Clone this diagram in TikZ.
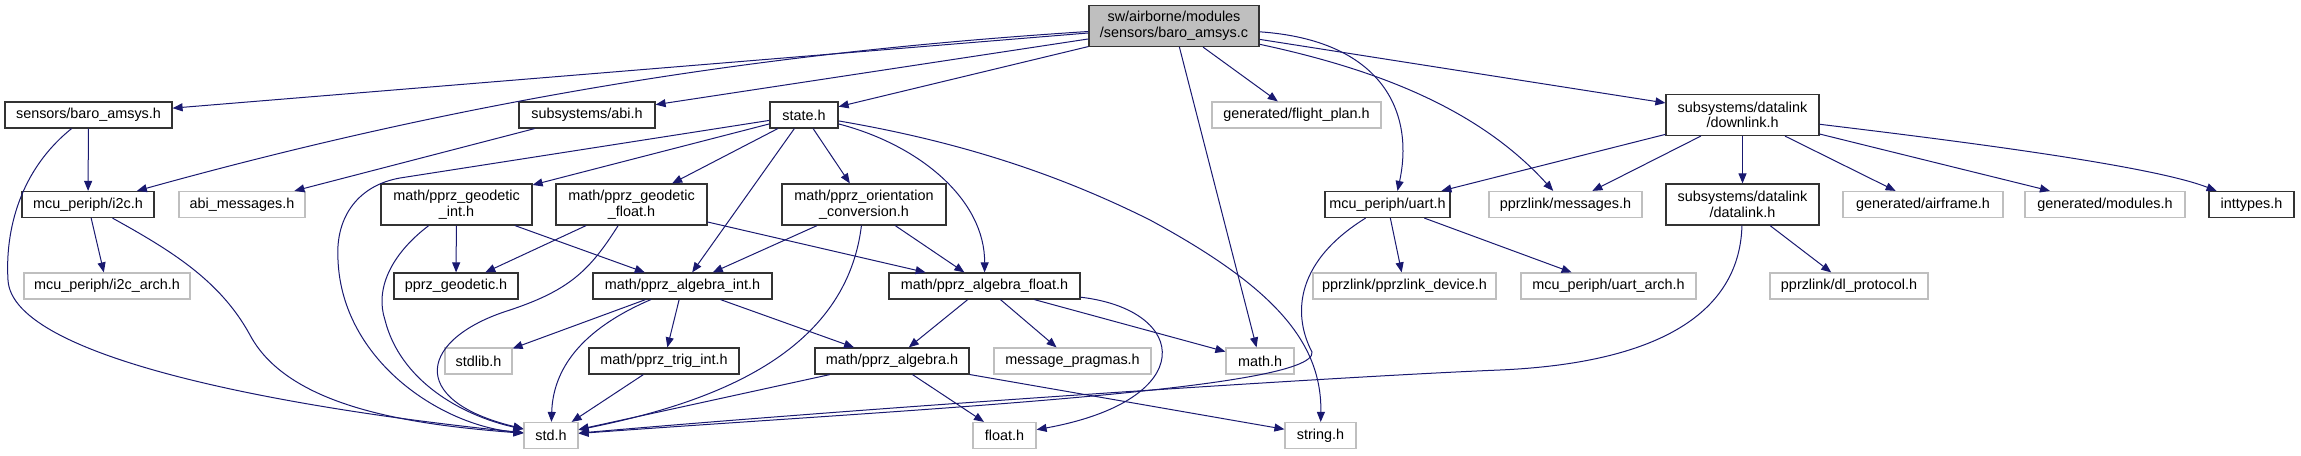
\documentclass[tikz,border=0pt]{standalone}
\usepackage{fontspec}
\setmainfont{Liberation Sans}
\usetikzlibrary{arrows.meta}
\definecolor{edgec}{HTML}{191970}
\definecolor{gborder}{HTML}{BFBFBF}
\definecolor{mainfill}{HTML}{BFBFBF}
\begin{document}
\begin{tikzpicture}[x=1pt,y=-1pt,
  box/.style={draw=black!80, line width=1.2pt, fill=white, inner sep=0pt, align=center,
    font=\fontsize{14.4}{15.5}\selectfont, minimum height=26pt},
  tall/.style={minimum height=41pt},
  gbox/.style={box, draw=gborder},
  ed/.style={draw=edgec, line width=1pt, -{Triangle[length=10pt,width=8pt]}},
]
\useasboundingbox (0,0) rectangle (2301,455);
% row 1
\node[box, tall, fill=mainfill, minimum width=170pt] (main) at (1174,26) {sw/airborne/modules\\/sensors/baro\_amsys.c};
% row 2
\node[box, minimum width=167pt] (baroh) at (88.5,115) {sensors/baro\_amsys.h};
\node[box, minimum width=136pt] (abi) at (587,115) {subsystems/abi.h};
\node[box, minimum width=68pt] (state) at (804,115) {state.h};
\node[gbox, minimum width=169pt] (fp) at (1296.5,115) {generated/flight\_plan.h};
\node[box, tall, minimum width=153pt] (downlink) at (1742.5,115) {subsystems/datalink\\/downlink.h};
% row 3
\node[box, minimum width=132pt] (i2c) at (88,204.5) {mcu\_periph/i2c.h};
\node[gbox, minimum width=126pt] (abimsg) at (242,204.5) {abi\_messages.h};
\node[box, tall, minimum width=151pt] (geoint) at (456.5,204.5) {math/pprz\_geodetic\\\_int.h};
\node[box, tall, minimum width=151pt] (geofloat) at (631.5,204.5) {math/pprz\_geodetic\\\_float.h};
\node[box, tall, minimum width=164pt] (orient) at (864,204.5) {math/pprz\_orientation\\\_conversion.h};
\node[box, minimum width=125pt] (uart) at (1387.5,204.5) {mcu\_periph/uart.h};
\node[gbox, minimum width=153pt] (msgs) at (1565.5,204.5) {pprzlink/messages.h};
\node[box, tall, minimum width=153pt] (datalink) at (1742.5,204.5) {subsystems/datalink\\/datalink.h};
\node[gbox, minimum width=160pt] (airframe) at (1923,204.5) {generated/airframe.h};
\node[gbox, minimum width=160pt] (modules) at (2105,204.5) {generated/modules.h};
\node[box, minimum width=85pt] (inttypes) at (2251.5,204.5) {inttypes.h};
% row 4
\node[gbox, minimum width=166pt] (i2carch) at (107,286) {mcu\_periph/i2c\_arch.h};
\node[box, minimum width=124pt] (geodetic) at (456,286) {pprz\_geodetic.h};
\node[box, minimum width=179pt] (algint) at (682.5,286) {math/pprz\_algebra\_int.h};
\node[box, minimum width=191pt] (algfloat) at (984.5,286) {math/pprz\_algebra\_float.h};
\node[gbox, minimum width=183pt] (device) at (1404.5,286) {pprzlink/pprzlink\_device.h};
\node[gbox, minimum width=175pt] (uartarch) at (1608.5,286) {mcu\_periph/uart\_arch.h};
\node[gbox, minimum width=158pt] (dlproto) at (1849,286) {pprzlink/dl\_protocol.h};
% row 5
\node[gbox, minimum width=67pt] (stdlib) at (478.5,361) {stdlib.h};
\node[box, minimum width=150pt] (trig) at (664,361) {math/pprz\_trig\_int.h};
\node[box, minimum width=154pt] (alg) at (892,361) {math/pprz\_algebra.h};
\node[gbox, minimum width=157pt] (pragmas) at (1072.5,361) {message\_pragmas.h};
\node[gbox, minimum width=68pt] (math) at (1260,361) {math.h};
% row 6
\node[gbox, minimum width=54pt] (std) at (551,435.5) {std.h};
\node[gbox, minimum width=63pt] (float) at (1004.5,435.5) {float.h};
\node[gbox, minimum width=71pt] (string) at (1320.5,435.5) {string.h};

% edges from main
\draw[ed] (main) -- (baroh);
\draw[ed] (main) .. controls (800,50) and (500,90) .. (i2c);
\draw[ed] (main) -- (abi);
\draw[ed] (main) -- (state);
\draw[ed] (main) -- (math);
\draw[ed] (main) -- (fp);
\draw[ed] (main) .. controls (1380,40) and (1415,110) .. ([xshift=10pt]uart.north);
\draw[ed] (main) .. controls (1380,70) and (1480,110) .. (msgs);
\draw[ed] (main) -- (downlink);
% baro_amsys.h
\draw[ed] (baroh) -- (i2c);
\draw[ed] (baroh) .. controls (20,170) and (5,230) .. (8,280) .. controls (12,360) and (300,410) .. (std);
% abi
\draw[ed] (abi) -- (abimsg);
% i2c
\draw[ed] (i2c) -- (i2carch);
\draw[ed] (i2c) .. controls (170,250) and (220,280) .. (250,335) .. controls (290,410) and (420,425) .. (std);
% state
\draw[ed] (state) -- (400,178) .. controls (360,185) and (335,215) .. (338,260) .. controls (342,360) and (440,425) .. (std);
\draw[ed] (state) -- (geoint);
\draw[ed] (state) -- (geofloat);
\draw[ed] (state) -- (algint);
\draw[ed] (state) -- (orient);
\draw[ed] (state) .. controls (920,145) and (985,200) .. (algfloat);
\draw[ed] (state) .. controls (950,140) and (1050,170) .. (1150,220) .. controls (1270,285) and (1322,340) .. (string);
% geodetic int
\draw[ed] (geoint) -- (geodetic);
\draw[ed] (geoint) -- (algint);
\draw[ed] (geoint) .. controls (390,255) and (375,290) .. (385,320) .. controls (400,380) and (460,415) .. (std);
% geodetic float
\draw[ed] (geofloat) -- (geodetic);
\draw[ed] (geofloat) -- (algfloat);
\draw[ed] (geofloat) .. controls (590,270) and (570,290) .. (510,310) .. controls (420,338) and (405,400) .. (std);
% orientation
\draw[ed] (orient) -- (algint);
\draw[ed] (orient) -- (algfloat);
\draw[ed] (orient) .. controls (845,360) and (700,405) .. (std);
% algebra int
\draw[ed] (algint) -- (stdlib);
\draw[ed] (algint) -- (trig);
\draw[ed] (algint) -- (alg);
\draw[ed] (algint) .. controls (580,330) and (553,370) .. (std);
% trig
\draw[ed] (trig) -- (std);
% algebra
\draw[ed] (alg) -- (std);
\draw[ed] (alg) -- (float);
\draw[ed] (alg) -- (string);
% algebra float
\draw[ed] (algfloat) -- (alg);
\draw[ed] (algfloat) -- (pragmas);
\draw[ed] (algfloat) -- (math);
\draw[ed] (algfloat) .. controls (1190,310) and (1200,400) .. (float);
% uart
\draw[ed] (uart) -- (device);
\draw[ed] (uart) -- (uartarch);
\draw[ed] (uart) .. controls (1290,265) and (1295,320) .. (1312,352) .. controls (1318,390) and (900,410) .. (std);
% datalink
\draw[ed] (datalink) -- (dlproto);
\draw[ed] (datalink) .. controls (1740,300) and (1680,362) .. (1500,370) .. controls (1350,376) and (900,405) .. (std);
% downlink
\draw[ed] (downlink) -- (uart);
\draw[ed] (downlink) -- (msgs);
\draw[ed] (downlink) -- (datalink);
\draw[ed] (downlink) -- (airframe);
\draw[ed] (downlink) -- (modules);
\draw[ed] (downlink) .. controls (1950,140) and (2150,165) .. (inttypes);
\end{tikzpicture}
\end{document}
